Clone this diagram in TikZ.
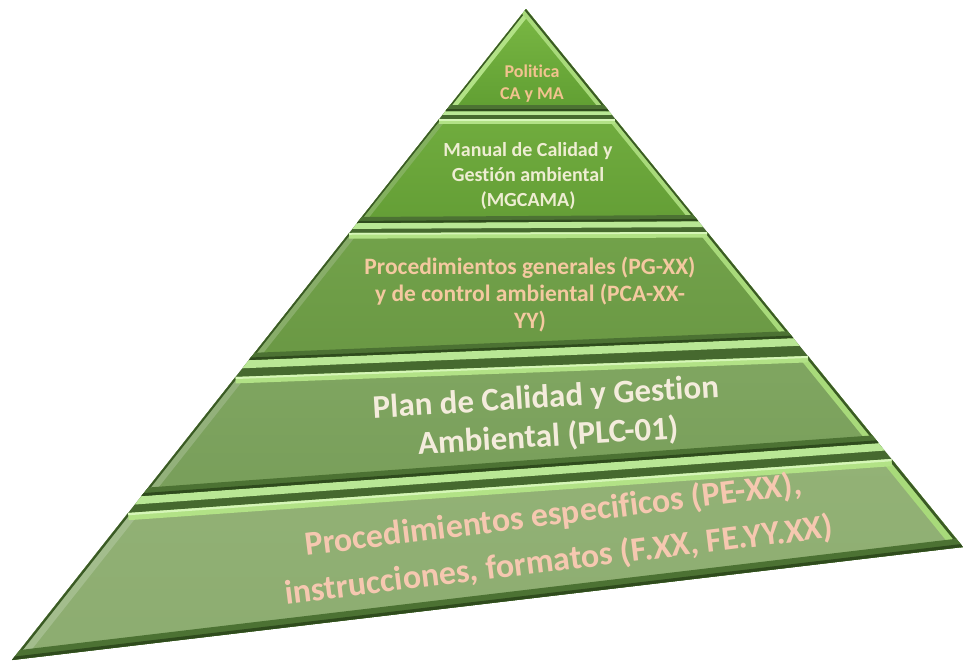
\documentclass[tikz,border=0pt]{standalone}
\usepackage{fontspec}
\setmainfont{Carlito}[Ligatures={NoCommon}]
\usetikzlibrary{calc}
\definecolor{body}{HTML}{46692F}
\definecolor{gaplight}{HTML}{B9E795}
\definecolor{bevtop}{HTML}{B2E286}
\definecolor{bevtop2}{HTML}{D6F6B8}
\definecolor{bevright}{HTML}{A8DA7A}
\definecolor{bevdark}{HTML}{3A5A24}
\definecolor{bevbot}{HTML}{4C7233}
\definecolor{bevbot2}{HTML}{2F4B1D}
\definecolor{txtpeach}{HTML}{F2C38F}
\definecolor{txtcream}{HTML}{EEEDD2}
\definecolor{txtpeachb}{HTML}{F4C9A0}
\definecolor{txtcreamb}{HTML}{F4ECDC}
\definecolor{txtpink}{HTML}{F6C8B0}
\definecolor{lonet}{RGB}{122,184,68}
\definecolor{loneb}{RGB}{96,158,50}
\definecolor{ltwot}{RGB}{112,172,62}
\definecolor{ltwob}{RGB}{100,158,54}
\definecolor{lthreet}{RGB}{114,162,74}
\definecolor{lthreeb}{RGB}{106,152,68}
\definecolor{lfourt}{RGB}{128,166,97}
\definecolor{lfourb}{RGB}{120,158,90}
\definecolor{lfivet}{RGB}{147,178,118}
\definecolor{lfiveb}{RGB}{140,172,112}
\tikzset{
  ptext/.style={align=center, inner sep=0pt},
}
% #1 TL, #2 TR, #3 BR, #4 BL, #5 top colour, #6 bottom colour, #7 bevel half-width
\newcommand\pyrlayer[7]{%
\begin{scope}
\clip #1--#2--#3--#4--cycle;
\shade[top color=#5,bottom color=#6] #1--#2--#3--#4--cycle;
\draw[line width=2*#7pt, color=#6!80!white] #4--#1;
\draw[line width=0.5*#7pt, color=bevdark] #4--#1;
\draw[line width=2*#7pt, color=bevright] #2--#3;
\draw[line width=0.6*#7pt, color=bevdark] #2--#3;
\draw[line width=1.6*#7pt, color=bevtop] #1--#2;
\draw[line width=0.5*#7pt, color=bevtop2] #1--#2;
\draw[line width=2*#7pt, color=bevbot] #3--#4;
\draw[line width=0.7*#7pt, color=bevbot2] #3--#4;
\end{scope}}
\begin{document}
\begin{tikzpicture}[x=1pt,y=-1pt]
\useasboundingbox (0,0) rectangle (963,662);
% outline of the pyramid
\coordinate (A) at (526,9);
\coordinate (PBL) at (12,660);
\coordinate (PBR) at (963,547);
\fill[body] (A)--(PBR)--(PBL)--cycle;
% light strips in the grooves
\begin{scope}
\clip (A)--(PBR)--(PBL)--cycle;
\fill[gaplight] (400,111)--(660,111)--(660,115)--(400,115)--cycle;
\fill[gaplight] (330,223)--(730,221)--(730,227)--(330,229)--cycle;
\fill[gaplight] (200,362)--(850,335.7)--(850,343.7)--(200,370)--cycle;
\fill[gaplight] (100,499)--(930,439.3)--(930,447.3)--(100,507)--cycle;
\end{scope}
% layer 1 (triangle)
\coordinate (L1R) at (608.9,111);
\coordinate (L1L) at (445.5,111);
\begin{scope}
\clip (A)--(L1R)--(L1L)--cycle;
\shade[top color=lonet, bottom color=loneb] (A)--(L1R)--(L1L)--cycle;
\draw[line width=12pt, color=bevtop] (L1L)--(A);
\draw[line width=3pt, color=bevdark] (L1L)--(A);
\draw[line width=12pt, color=bevright] (A)--(L1R);
\draw[line width=4pt, color=bevdark] (A)--(L1R);
\draw[line width=12pt, color=bevbot] (L1R)--(L1L);
\draw[line width=4pt, color=bevbot2] (L1R)--(L1L);
\end{scope}
% layers 2-5
\pyrlayer{(439.2,119)}{(615.4,119)}{(698.2,221)}{(357.0,223)}{ltwot}{ltwob}{6}
\pyrlayer{(349.2,233)}{(707.1,232)}{(793.2,338)}{(248.9,360)}{lthreet}{lthreeb}{7}
\pyrlayer{(235.5,377)}{(807.9,356)}{(878.5,443)}{(141.5,496)}{lfourt}{lfourb}{8}
\pyrlayer{(128.1,513)}{(891.5,459)}{(963,547)}{(12,660)}{lfivet}{lfiveb}{9}
% texts
\node[ptext, text=txtpeach, font=\fontsize{18}{22}\selectfont\bfseries] (t1) at (532,84) {Politica\\CA y MA};
\node[ptext, text=txtcream, font=\fontsize{20}{25}\selectfont\bfseries] (t2) at (528,176) {Manual de Calidad y\\Gestión ambiental\\(MGCAMA)};
\node[ptext, text=txtpeachb, font=\fontsize{23.5}{27}\selectfont\bfseries] (t3) at (530,295) {Procedimientos generales (PG-XX)\\y de control ambiental (PCA-XX-\\YY)};
\node[ptext, text=txtcreamb, font=\fontsize{33}{39}\selectfont\bfseries, rotate=3.5] (t4) at (547,418) {Plan de Calidad y Gestion\\Ambiental (PLC-01)};
\node[ptext, text=txtpink, font=\fontsize{34}{46}\selectfont\bfseries, rotate=7] (t5) at (556,538) {Procedimientos especificos (PE-XX),\\instrucciones, formatos (F.XX, FE.YY.XX)};
\end{tikzpicture}
\end{document}
